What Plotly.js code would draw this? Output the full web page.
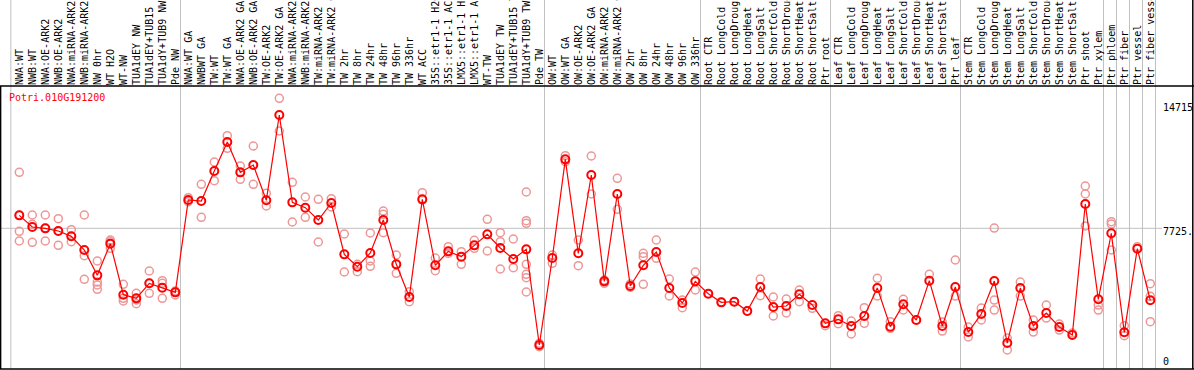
<!DOCTYPE html>
<html>
<head>
<meta charset="utf-8">
<script src="https://cdn.plot.ly/plotly-3.0.1.min.js"></script>
<style>html,body{margin:0;padding:0;background:#fff;}#chart{width:1194px;height:370px;}</style>
</head>
<body>
<div id="chart"></div>
<script>
const geneId = "Potri.010G191200";

const labels = [
  "NWA:WT","NWB:WT","NWA:OE-ARK2","NWB:OE-ARK2","NWA:miRNA-ARK2","NWB:miRNA-ARK2",
  "NW 0hr","WT H2O","WT-NW","TUA1dEY NW","TUA1dEY+TUB15 NW","TUA1dY+TUB9 NW","Pde NW",
  "NWA:WT GA","NWBWT GA","TW:WT","TW:WT GA","NWA:OE-ARK2 GA","NWB:OE-ARK2 GA","TW:OE-ARK2",
  "TW:OE-ARK2 GA","NWA:miRNA-ARK2","NWB:miRNA-ARK2","TW:miRNA-ARK2","TW:miRNA-ARK2 GA",
  "TW 2hr","TW 8hr","TW 24hr","TW 48hr","TW 96hr","TW 336hr","WT ACC",
  "35S::etr1-1 H2O","35S::etr1-1 ACC","LMX5::etr1-1 H2O","LMX5::etr1-1 ACC","WT-TW",
  "TUA1dEY TW","TUA1dEY+TUB15 TW","TUA1dY+TUB9 TW","Pde TW",
  "OW:WT","OW:WT GA","OW:OE-ARK2","OW:OE-ARK2 GA","OW:miRNA-ARK2","OW:miRNA-ARK2 GA",
  "OW 2hr","OW 8hr","OW 24hr","OW 48hr","OW 96hr","OW 336hr",
  "Root CTR","Root LongCold","Root LongDrought","Root LongHeat","Root LongSalt",
  "Root ShortCold","Root ShortDrought","Root ShortHeat","Root ShortSalt","Ptr root",
  "Leaf CTR","Leaf LongCold","Leaf LongDrought","Leaf LongHeat","Leaf LongSalt",
  "Leaf ShortCold","Leaf ShortDrought","Leaf ShortHeat","Leaf ShortSalt","Ptr leaf",
  "Stem CTR","Stem LongCold","Stem LongDrought","Stem LongHeat","Stem LongSalt",
  "Stem ShortCold","Stem ShortDrought","Stem ShortHeat","Stem ShortSalt",
  "Ptr shoot","Ptr xylem","Ptr phloem","Ptr fiber","Ptr vessel","Ptr fiber vessel"
];

const means = [
  8422,7795,7723,7580,7293,6558,5196,6899,4156,3959,4766,4533,4282,
  9247,9193,10806,12365,10734,11128,9229,13817,9121,8834,8171,9085,
  6325,5662,6397,8171,5787,4031,9282,5734,6486,6200,6809,7400,6666,6074,6594,1450,
  6128,11433,6379,10591,4873,9569,4622,5734,6450,4515,3708,4873,
  4210,3744,3780,3278,4569,3493,3547,4174,3601,2615,
  2830,2472,3009,4515,2436,3637,2794,4909,2471,4568,
  2148,3116,4891,1557,4514,2471,3170,2417,1987,
  9031,3907,7455,2132,6627,3853
];

const replicates = [
  [10734,7562,7042,8422],[8440,7938,6970],[8440,7042,7723],[8243,6809,7580],[7651,7006,7293],
  [8440,6253,4981],[5967,4838,4676,4443],[7096,7006,6648],[4712,3959,3816],[4228,3870,3673],
  [5429,4228,4766],[4909,4766,3959],[4354,4139],
  [9372,9157],[10089,8315],[11290,10286],[12706,12025],[11075,10358],[12150,10089],[9605,8924],
  [14715,12957],[10196,8064],[9408,8315],[9282,6988],[9318,8870],
  [7418,5375],[5787,5393],[7472,5967,5680],[8655,8476,7490],[6289,5304],[4318,3780],[9641,9247],
  [6128,5447],[6737,6379],[6468,5788],[7078,6648],[8207,6504],[7490,7006,5536],[7150,5608],
  [9677,8135,7992,5788,5250,5070,4300],[1540,1360],
  [6289,5841],[11630,11308],[7096,5716],[11612,9569],[4945,4766],[10412,8745],
  [4730,4551],[6379,6200,4712],[7096,6110],[4999,4085],[3870,3457],[5375,4407],
  [4210],[3744],[3780],[3278],[4999,4103],[4031,3009],[3923,3171],[4407,3780],[3422],[2490],
  [3027,2597],[2741,2042],[3457,2615],[5035,4085],[2705,2346],[3906,3332],[2794],[5250],[2686,2202],[6020,4084],
  [2417,1880],[3439,2794],[7740,3869,3331],[1826,1181],[4837,4084],[2794,2148],[3600,2901],[2578,2256],[2094],
  [9999,9569,7848],[3600,3331],[8079,7955,6558],[2490,1950],[6735],[4745,4068,2702]
];

// group boundaries (drawn between samples)
const groupBreaks = [-0.65, 12.4, 40.4, 52.4, 62.4, 72.4, 83.4, 84.4, 85.4, 86.4, 87.4];
const axisLabels = ["14715", "7725.", "0"];
const gridValue = 7725;

const idx = labels.map((_, i) => i);
const repX = [], repY = [];
replicates.forEach((arr, i) => arr.forEach(v => { repX.push(i); repY.push(v); }));

const FONT = "DejaVu Sans Mono, Liberation Mono, monospace";
const W = 1194, H = 370;
const mT = 86, mB = 1;
const plotH = H - mT - mB;
const xr = [-19.3 / 13, (W - 19.3) / 13];
const yr = [160, 15376];
const pageTop = 1 + mT / plotH;

const shapes = [];
groupBreaks.forEach(p => shapes.push({
  type: 'line', xref: 'x', yref: 'paper', x0: p, x1: p, y0: 0, y1: pageTop,
  line: {color: '#c0c0c0', width: 1}, layer: 'below'
}));
shapes.push({type: 'line', xref: 'paper', yref: 'y', x0: 0, x1: 1162 / W, y0: gridValue, y1: gridValue,
  line: {color: '#c0c0c0', width: 1}, layer: 'below'});
// frame
shapes.push({type: 'line', xref: 'paper', yref: 'paper', x0: 0, x1: 1, y0: 1, y1: 1, line: {color: '#000', width: 1.5}});
shapes.push({type: 'line', xref: 'paper', yref: 'paper', x0: 0, x1: 1, y0: 0, y1: 0, line: {color: '#000', width: 1.5}});
shapes.push({type: 'line', xref: 'paper', yref: 'paper', x0: 0.6 / W, x1: 0.6 / W, y0: 0, y1: 1, line: {color: '#000', width: 1.5}});
shapes.push({type: 'line', xref: 'paper', yref: 'paper', x0: 1192.8 / W, x1: 1192.8 / W, y0: 0, y1: pageTop, line: {color: '#000', width: 1.5}});

function py(pix) { return (H - mB - pix) / plotH; }
const annotations = [
  {xref: 'paper', yref: 'paper', x: 7 / W, y: py(97.3), xanchor: 'left', yanchor: 'middle',
   text: geneId, showarrow: false, font: {family: FONT, size: 10, color: '#ff0000'}},
  {xref: 'paper', yref: 'paper', x: 1161 / W, y: py(107.7), xanchor: 'left', yanchor: 'middle',
   text: axisLabels[0], showarrow: false, font: {family: FONT, size: 10, color: '#000'}},
  {xref: 'paper', yref: 'paper', x: 1161 / W, y: py(231.7), xanchor: 'left', yanchor: 'middle',
   text: axisLabels[1], showarrow: false, font: {family: FONT, size: 10, color: '#000'}},
  {xref: 'paper', yref: 'paper', x: 1161 / W, y: py(361.7), xanchor: 'left', yanchor: 'middle',
   text: axisLabels[2], showarrow: false, font: {family: FONT, size: 10, color: '#000'}}
];

const traces = [
  {x: repX, y: repY, type: 'scatter', mode: 'markers', hoverinfo: 'skip', cliponaxis: false,
   marker: {symbol: 'circle-open', size: 8, color: 'rgb(238,150,150)', line: {width: 1.5, color: 'rgb(238,150,150)'}}},
  {x: idx, y: means, type: 'scatter', mode: 'lines+markers', cliponaxis: false,
   line: {color: '#ff0000', width: 1.2},
   marker: {symbol: 'circle-open', size: 8, color: '#ff0000', line: {width: 2, color: '#ff0000'}}}
];

const layout = {
  width: W, height: H,
  margin: {l: 0, r: 0, t: mT, b: mB, pad: 0},
  paper_bgcolor: '#fff', plot_bgcolor: '#fff',
  showlegend: false,
  xaxis: {range: xr, side: 'top', tickmode: 'array', tickvals: idx, ticktext: labels,
          tickangle: -90, ticks: '', ticklen: 0, showgrid: false, zeroline: false, showline: false,
          automargin: false, tickfont: {family: FONT, size: 10, color: '#000'}},
  yaxis: {range: yr, showgrid: false, zeroline: false, showline: false, showticklabels: false,
          ticks: '', automargin: false},
  shapes: shapes,
  annotations: annotations
};

Plotly.newPlot('chart', traces, layout, {staticPlot: true, displayModeBar: false});
</script>
</body>
</html>
